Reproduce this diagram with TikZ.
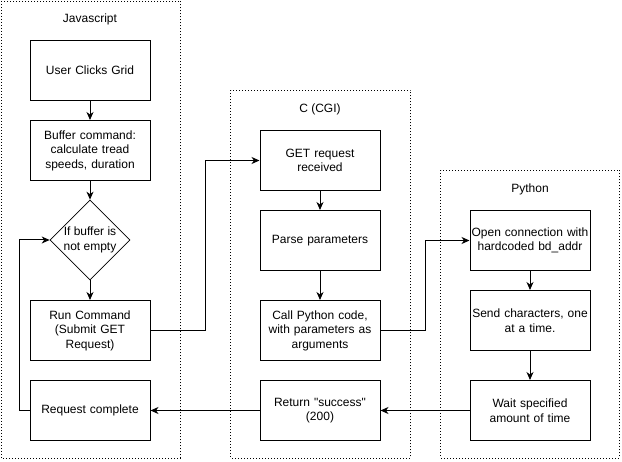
\documentclass[tikz,border=0pt]{standalone}
\usepackage{fontspec}
\setmainfont{Liberation Sans}
\usetikzlibrary{arrows.meta,shapes.geometric}
\begin{document}
\begin{tikzpicture}[x=1pt,y=-1pt,
  every node/.style={font=\fontsize{12}{14.5}\selectfont},
  box/.style={draw,line width=1pt,minimum width=120pt,minimum height=60pt,align=center,text width=118pt,inner sep=0pt},
  dia/.style={draw,line width=0.7pt,diamond,minimum width=80pt,minimum height=80pt,inner sep=0pt},
  cont/.style={draw,line width=0.9pt,dash pattern=on 1pt off 2pt},
  conn/.style={line width=1pt,-{Stealth[length=8pt,width=7pt,inset=2.5pt]}},
  plain/.style={line width=1pt}]
\useasboundingbox (0,0) rectangle (622,462);
% containers
\draw[cont] (1,1) rectangle (180.5,458);
\draw[cont] (230.5,90.5) rectangle (410.5,458);
\draw[cont] (440.5,170.5) rectangle (619.5,458);
\node (ljs) at (90,19) {Javascript};
\node (lc) at (320,109) {C (CGI)};
\node (lpy) at (530,189) {Python};
% Javascript
\node[box] (click) at (90,70.5) {User Clicks Grid};
\node[box] (buf) at (90,150.5) {Buffer command:\\calculate tread\\speeds, duration};
\node[dia] (cond) at (90,240) {};
\node[align=center,inner sep=0pt] (condtext) at (cond.center) {If buffer is\\not empty};
\node[box] (run) at (90,330.5) {Run Command\\(Submit GET\\Request)};
\node[box] (done) at (90,410.5) {Request complete};
% C
\node[box] (get) at (320,160.5) {GET request\\received};
\node[box] (parse) at (320,240.5) {Parse parameters};
\node[box] (call) at (320,330.5) {Call Python code,\\with parameters as\\arguments};
\node[box] (ret) at (320,410.5) {Return \textquotedbl success\textquotedbl\\(200)};
% Python
\node[box] (open) at (530,240.5) {Open connection with\\hardcoded bd\_addr};
\node[box] (send) at (530,320.5) {Send characters, one\\at a time.};
\node[box] (wait) at (530,410.5) {Wait specified\\amount of time};
% connectors
\draw[conn] (click) -- (buf);
\draw[conn] (buf) -- (cond);
\draw[conn] (cond) -- (run);
\draw[conn] (done.west) -- ++(-10,0) |- (cond.west);
\draw[conn] (run.east) -- (205.5,330.5) |- (get.west);
\draw[conn] (get) -- (parse);
\draw[conn] (parse) -- (call);
\draw[conn] (call.east) -- (425.5,330.5) |- (open.west);
\draw[conn] (open) -- (send);
\draw[conn] (send) -- (wait);
\draw[conn] (wait) -- (ret);
\draw[conn] (ret) -- (done);
\end{tikzpicture}
\end{document}
